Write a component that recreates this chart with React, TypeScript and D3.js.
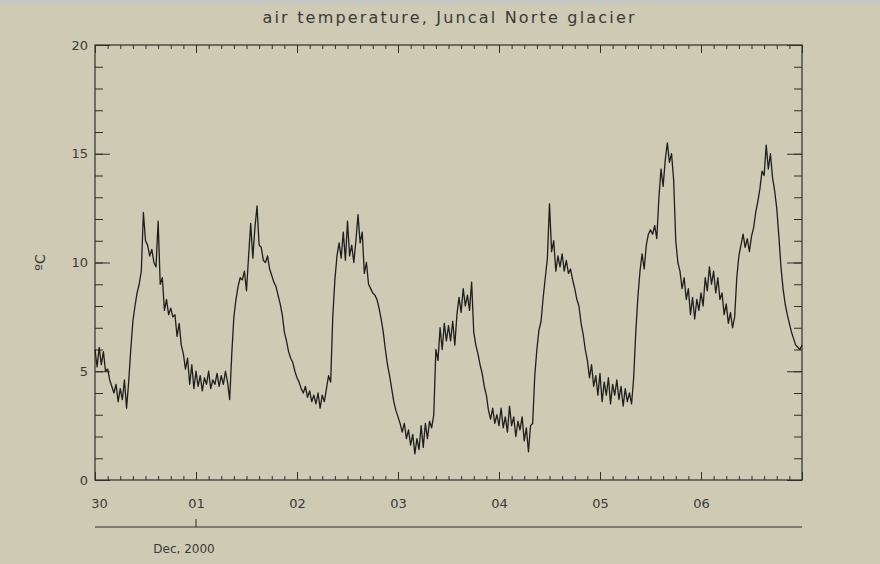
import { useRef, useEffect } from 'react'
import * as d3 from 'd3'

// half-hourly air temperature (ºC), one array per day
const nov30 = [
  6.0, 5.2, 6.1, 5.3, 5.9, 5.0, 5.1, 4.6, 4.3, 4.0, 4.4, 3.6, 4.2, 3.7, 4.6, 3.3,
  4.5, 6.0, 7.3, 8.0, 8.6, 9.0, 9.6, 12.3, 11.0, 10.8, 10.3, 10.6, 10.0, 9.8, 11.9, 9.0,
  9.3, 7.8, 8.3, 7.6, 7.9, 7.5, 7.6, 6.6, 7.2, 6.2, 5.8, 5.1, 5.6, 4.4, 5.3, 4.2,
]
const dec01 = [
  5.0, 4.3, 4.8, 4.1, 4.7, 4.4, 5.0, 4.2, 4.6, 4.4, 4.9, 4.3, 4.8, 4.4, 5.0, 4.5,
  3.7, 5.8, 7.5, 8.3, 8.9, 9.3, 9.2, 9.6, 8.7, 10.3, 11.8, 10.2, 11.6, 12.6, 10.8, 10.7,
  10.1, 10.0, 10.3, 9.7, 9.4, 9.1, 8.9, 8.5, 8.1, 7.6, 6.8, 6.4, 5.9, 5.6, 5.4, 5.0,
]
const dec02 = [
  4.7, 4.5, 4.2, 4.0, 4.3, 3.8, 4.1, 3.6, 3.9, 3.5, 4.0, 3.3, 3.9, 3.6, 4.2, 4.8,
  4.5, 7.5, 9.2, 10.3, 10.9, 10.2, 11.4, 10.1, 11.9, 10.3, 10.8, 10.0, 11.0, 12.2, 10.9, 11.4,
  9.5, 10.0, 9.0, 8.8, 8.6, 8.5, 8.3, 7.9, 7.4, 6.8, 6.0, 5.3, 4.8, 4.2, 3.6, 3.2,
]
const dec03 = [
  2.9, 2.6, 2.2, 2.6, 1.9, 2.3, 1.6, 2.1, 1.2, 1.9, 1.4, 2.5, 1.5, 2.6, 1.9, 2.7,
  2.4, 3.0, 6.0, 5.5, 7.0, 6.0, 7.2, 6.4, 7.1, 6.4, 7.3, 6.2, 7.6, 8.4, 7.7, 8.8,
  8.0, 8.5, 7.8, 9.1, 6.8, 6.2, 5.8, 5.3, 4.9, 4.3, 3.9, 3.2, 2.8, 3.3, 2.6, 3.0,
]
const dec04 = [
  2.5, 3.3, 2.4, 2.9, 2.2, 3.4, 2.5, 2.9, 2.0, 2.7, 2.3, 2.9, 1.8, 2.4, 1.3, 2.5,
  2.6, 4.8, 6.0, 6.9, 7.3, 8.4, 9.3, 10.2, 12.7, 10.5, 11.0, 9.6, 10.3, 9.8, 10.4, 9.6,
  10.1, 9.5, 9.7, 9.2, 8.8, 8.3, 8.0, 7.2, 6.7, 6.0, 5.5, 4.7, 5.3, 4.3, 4.8, 3.9,
]
const dec05 = [
  4.9, 3.6, 4.5, 3.9, 4.7, 3.5, 4.4, 3.9, 4.6, 3.7, 4.3, 3.4, 4.2, 3.6, 4.0, 3.5,
  4.7, 6.8, 8.4, 9.6, 10.4, 9.7, 10.8, 11.3, 11.5, 11.3, 11.7, 11.1, 13.0, 14.3, 13.5, 14.7,
  15.5, 14.6, 15.0, 13.8, 11.0, 10.0, 9.6, 8.8, 9.3, 8.3, 8.8, 7.6, 8.4, 7.4, 8.3, 7.8,
]
const dec06 = [
  8.6, 8.0, 9.3, 8.7, 9.8, 9.0, 9.6, 8.6, 9.3, 8.3, 8.6, 7.6, 8.1, 7.2, 7.7, 7.0,
  7.5, 9.3, 10.3, 10.8, 11.3, 10.7, 11.1, 10.5, 11.2, 11.6, 12.3, 12.8, 13.4, 14.2, 14.0, 15.4,
  14.3, 15.0, 13.9, 13.3, 12.5, 11.2, 9.8, 8.8, 8.1, 7.6, 7.2, 6.8, 6.5, 6.2, 6.1, 6.0,
  6.2,
]

const dayLabels = ['30', '01', '02', '03', '04', '05', '06']
const yMajor = [0, 5, 10, 15, 20]
const title = 'air temperature, Juncal Norte glacier'
const yTitle = 'ºC'
const monthLabel = 'Dec, 2000'

const start = Date.UTC(2000, 10, 30)
const stepMs = 30 * 60 * 1000

export default function App() {
  const ref = useRef<SVGSVGElement>(null)

  useEffect(() => {
    if (!ref.current) return
    const svg = d3.select(ref.current)
    svg.selectAll('*').remove()

    const W = 880
    const H = 564
    const m = { left: 95, right: 78, top: 45, bottom: 84 }
    const ink = '#2f2f2f'
    const font = 'DejaVu Sans, sans-serif'

    svg.append('rect').attr('width', W).attr('height', H).attr('fill', '#cecab3')
    svg.append('rect').attr('width', W).attr('height', 4).attr('fill', '#c4c7c1')

    const values = [...nov30, ...dec01, ...dec02, ...dec03, ...dec04, ...dec05, ...dec06]
    const data = values.map((v, i) => ({ t: new Date(start + i * stepMs), v }))

    const x = d3
      .scaleUtc()
      .domain([new Date(start), new Date(start + 7 * 24 * 3600 * 1000)])
      .range([m.left, W - m.right])
    const y = d3.scaleLinear().domain([0, 20]).range([H - m.bottom, m.top])

    const days = d3.utcDay.range(x.domain()[0], d3.utcDay.offset(x.domain()[1], 1))
    const minorX = d3.utcHour.every(3)!.range(x.domain()[0], x.domain()[1])
    const minorY = d3.range(0, 21)

    const styleAxis = (g: d3.Selection<SVGGElement, unknown, null, undefined>) => {
      g.select('.domain').remove()
      g.selectAll('line').attr('stroke', ink).attr('stroke-width', 1)
      g.selectAll('text').attr('font-family', font).attr('font-size', '13px').attr('fill', '#3a3a3a')
    }

    // bottom axis
    svg.append('g')
      .attr('transform', `translate(0,${H - m.bottom})`)
      .call(d3.axisBottom(x).tickValues(minorX).tickSize(-4).tickFormat(() => ''))
      .call(styleAxis)
    svg.append('g')
      .attr('transform', `translate(0,${H - m.bottom})`)
      .call(
        d3.axisBottom(x)
          .tickValues(days)
          .tickSize(-8)
          .tickPadding(19)
          .tickFormat((d, i) => dayLabels[i] ?? '')
      )
      .call(styleAxis)
      .call((g) => g.selectAll('text').filter((d, i) => i === 0).attr('dx', 4))

    // top axis
    svg.append('g')
      .attr('transform', `translate(0,${m.top})`)
      .call(d3.axisTop(x).tickValues(minorX).tickSize(-4).tickFormat(() => ''))
      .call(styleAxis)
    svg.append('g')
      .attr('transform', `translate(0,${m.top})`)
      .call(d3.axisTop(x).tickValues(days).tickSize(-8).tickFormat(() => ''))
      .call(styleAxis)

    // left axis
    svg.append('g')
      .attr('transform', `translate(${m.left},0)`)
      .call(d3.axisLeft(y).tickValues(minorY).tickSize(-8).tickFormat(() => ''))
      .call(styleAxis)
    svg.append('g')
      .attr('transform', `translate(${m.left},0)`)
      .call(d3.axisLeft(y).tickValues(yMajor).tickSize(-15).tickPadding(7).tickFormat(d3.format('d')))
      .call(styleAxis)

    // right axis
    svg.append('g')
      .attr('transform', `translate(${W - m.right},0)`)
      .call(d3.axisRight(y).tickValues(minorY).tickSize(-8).tickFormat(() => ''))
      .call(styleAxis)
    svg.append('g')
      .attr('transform', `translate(${W - m.right},0)`)
      .call(d3.axisRight(y).tickValues(yMajor).tickSize(-15).tickFormat(() => ''))
      .call(styleAxis)

    // frame
    svg.append('rect')
      .attr('x', m.left)
      .attr('y', m.top)
      .attr('width', W - m.left - m.right)
      .attr('height', H - m.top - m.bottom)
      .attr('fill', 'none')
      .attr('stroke', ink)
      .attr('stroke-width', 1.2)

    // series
    const line = d3
      .line<{ t: Date; v: number }>()
      .x((d) => x(d.t))
      .y((d) => y(d.v))
    svg.append('path')
      .datum(data)
      .attr('d', line)
      .attr('fill', 'none')
      .attr('stroke', '#1e1e1e')
      .attr('stroke-width', 1.3)
      .attr('stroke-linejoin', 'round')

    // month axis below
    const monthY = 527
    svg.append('line')
      .attr('x1', m.left)
      .attr('x2', W - m.right)
      .attr('y1', monthY)
      .attr('y2', monthY)
      .attr('stroke', ink)
    svg.append('line')
      .attr('x1', x(days[1]))
      .attr('x2', x(days[1]))
      .attr('y1', monthY - 8)
      .attr('y2', monthY)
      .attr('stroke', ink)
    svg.append('text')
      .attr('x', x(days[1]) - 12)
      .attr('y', 553)
      .attr('text-anchor', 'middle')
      .attr('font-family', font)
      .attr('font-size', '12px')
      .attr('fill', '#3a3a3a')
      .text(monthLabel)

    // title
    svg.append('text')
      .attr('x', (m.left + W - m.right) / 2)
      .attr('y', 23)
      .attr('text-anchor', 'middle')
      .attr('font-family', font)
      .attr('font-size', '16px')
      .attr('fill', '#3a3a3a')
      .attr('textLength', 372)
      .attr('lengthAdjust', 'spacing')
      .text(title)

    // y title
    svg.append('text')
      .attr('transform', `translate(45,${y(10)}) rotate(-90)`)
      .attr('text-anchor', 'middle')
      .attr('font-family', font)
      .attr('font-size', '14px')
      .attr('fill', '#3a3a3a')
      .text(yTitle)
  }, [])

  return (
    <svg
      ref={ref}
      width={880}
      height={564}
      style={{ position: 'absolute', left: 0, top: 0, display: 'block' }}
    />
  )
}
